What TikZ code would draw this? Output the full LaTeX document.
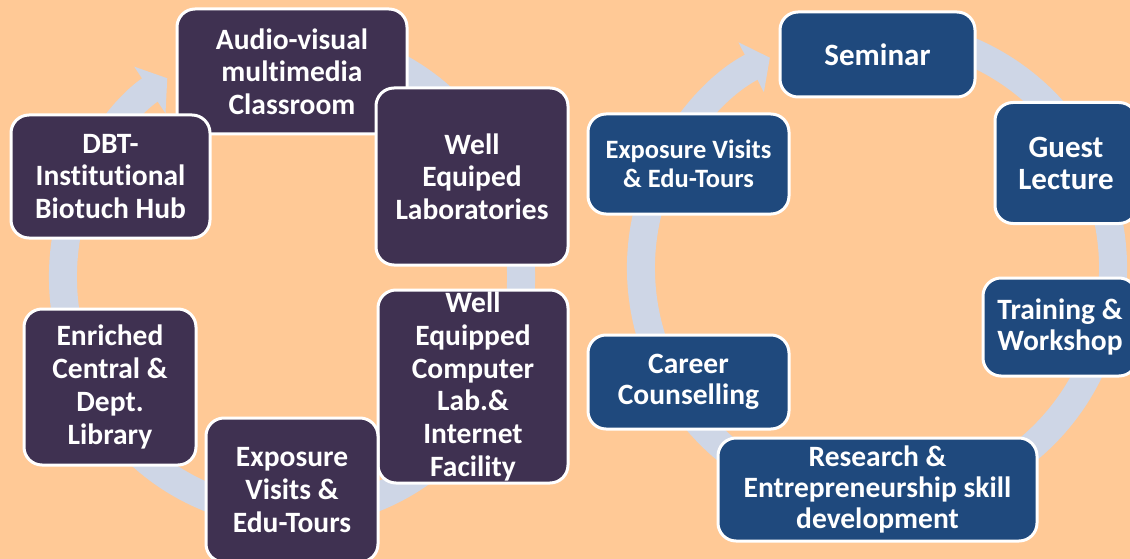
\documentclass[tikz,border=0pt]{standalone}
\usepackage{fontspec}
\setmainfont{Carlito}[Ligatures=NoCommon]
\usetikzlibrary{arrows.meta}
\definecolor{peach}{HTML}{FFC996}
\definecolor{plum}{HTML}{3F3151}
\definecolor{navy}{HTML}{1F497D}
\definecolor{ringgrey}{HTML}{CED6E6}
\tikzset{
  card/.style={draw=white, line width=3pt, rounded corners=18pt, text=white, align=center, inner sep=0pt},
  leftcard/.style={card, fill=plum, font=\bfseries\fontsize{29.5}{32.7}\selectfont},
  rightcard/.style={card, fill=navy, font=\bfseries\fontsize{29.5}{31}\selectfont},
  smallcard/.style={card, fill=navy, font=\bfseries\fontsize{26.5}{29.5}\selectfont},
  bigcard/.style={card, fill=navy, font=\bfseries\fontsize{31}{32}\selectfont},
  ring/.style={ringgrey, line width=28pt, -{Triangle[length=21pt,width=55pt]}}
}

\begin{document}
\begin{tikzpicture}[x=1pt,y=1pt]
  \fill[peach] (0,0) rectangle (1130,-559);
  \useasboundingbox (0,0) rectangle (1130,-559);
  \coordinate (lc) at (292,-277);
  \coordinate (rc) at (877,-268);
  \draw[ring] ([shift={(70:229pt and 237pt)}]lc) arc[start angle=70, end angle=-237, x radius=229pt, y radius=237pt];
  \draw[ring] ([shift={(70:236pt)}]rc) arc[start angle=70, end angle=-243, radius=236pt];

  \node[leftcard, minimum width=230pt, minimum height=125pt] (audio) at (292,-71.5) {Audio-visual\\multimedia\\Classroom};
  \node[leftcard, minimum width=192pt, minimum height=177pt] (lab) at (472,-176.5) {Well\\Equiped\\Laboratories};
  \node[leftcard, minimum width=190pt, minimum height=193pt] (comp) at (473,-386.5) {Well\\Equipped\\Computer\\Lab.\&\\Internet\\Facility};
  \node[leftcard, minimum width=172pt, minimum height=144pt] (visits) at (292,-490) {Exposure\\Visits \&\\Edu-Tours};
  \node[leftcard, minimum width=172pt, minimum height=156pt] (library) at (110,-387) {Enriched\\Central \&\\Dept.\\Library};
  \node[leftcard, minimum width=199pt, minimum height=123pt] (dbt) at (110.5,-176.5) {DBT-\\Institutional\\Biotuch Hub};

  \node[bigcard, minimum width=195pt, minimum height=85pt] (seminar) at (877.5,-54.5) {Seminar};
  \node[bigcard, minimum width=142pt, minimum height=121pt] (guest) at (1066,-163) {Guest\\Lecture};
  \node[rightcard, minimum width=154pt, minimum height=98pt] (training) at (1060,-327) {Training \&\\Workshop};
  \node[rightcard, minimum width=319pt, minimum height=103pt] (research) at (877.5,-489.5) {Research \&\\Entrepreneurship skill\\development};
  \node[rightcard, minimum width=201pt, minimum height=94pt] (career) at (688.5,-382) {Career\\Counselling};
  \node[smallcard, minimum width=201pt, minimum height=100pt] (tours) at (688.5,-164) {Exposure Visits\\\& Edu-Tours};
\end{tikzpicture}
\end{document}
